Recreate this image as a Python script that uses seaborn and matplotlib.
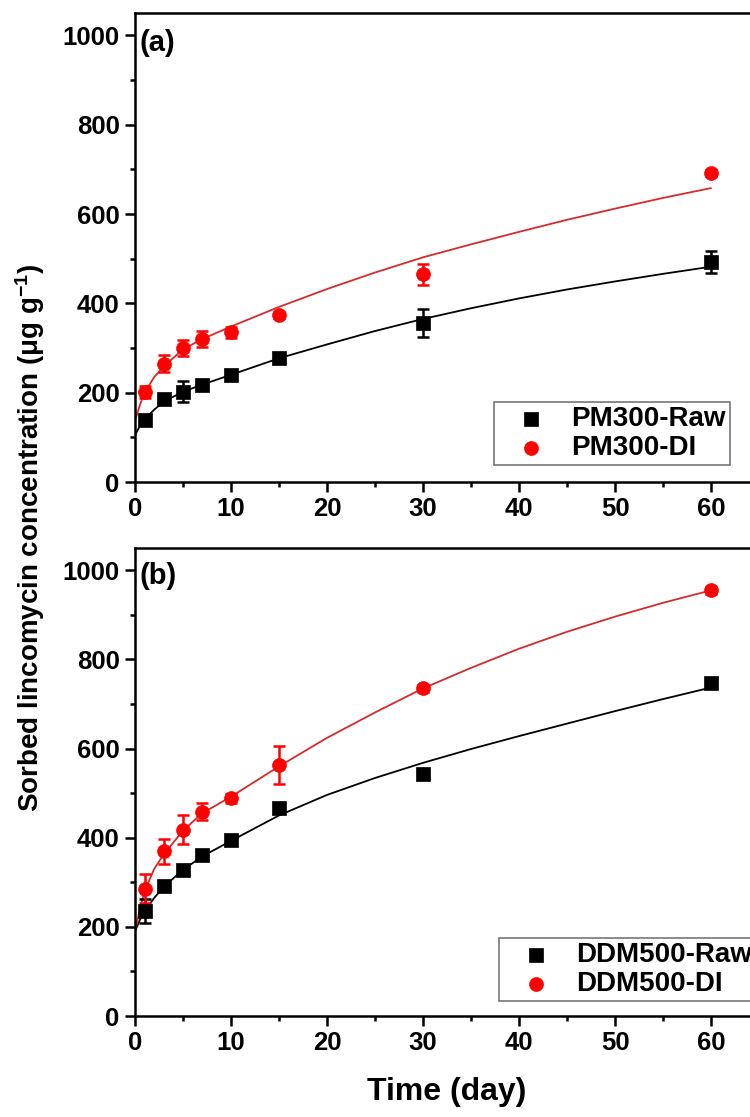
import matplotlib
matplotlib.use("Agg")
import matplotlib.pyplot as plt
import seaborn as sns
import numpy as np
from matplotlib.ticker import MultipleLocator

# ---------------- data ----------------
t_days = [1, 3, 5, 7, 10, 15, 30, 60]

a_raw = [139, 186, 202, 217, 239, 277, 356, 493]
a_raw_err = [12, 6, 24, 10, 8, 8, 32, 25]
a_di = [202, 265, 300, 321, 335, 374, 465, 692]
a_di_err = [13, 19, 17, 18, 13, 6, 23, 6]

b_raw = [235, 291, 327, 361, 395, 466, 543, 747]
b_raw_err = [27, 8, 8, 12, 8, 8, 8, 8]
b_di = [286, 370, 418, 458, 488, 563, 735, 955]
b_di_err = [32, 28, 32, 19, 10, 42, 8, 8]

# fitted curves
t_fit = [0, 0.5, 1, 2, 3, 5, 7, 10, 15, 20, 25, 30, 35, 40, 45, 50, 55, 60]
fit_a_raw = [105, 125, 140, 162, 180, 202, 218, 240, 277, 308, 338, 365, 389, 411, 431, 449, 466, 482]
fit_a_di = [137, 172, 200, 235, 259, 297, 320, 348, 392, 432, 469, 503, 532, 560, 587, 612, 636, 658]
fit_b_raw = [190, 215, 235, 265, 290, 328, 358, 393, 450, 496, 534, 568, 599, 628, 656, 684, 711, 737]
fit_b_di = [188, 240, 280, 330, 363, 416, 455, 492, 560, 624, 681, 735, 781, 824, 862, 896, 927, 955]

labels_a = ["PM300-Raw", "PM300-DI"]
labels_b = ["DDM500-Raw", "DDM500-DI"]
panel_tags = ["(a)", "(b)"]

# ---------------- style ----------------
sns.set_theme(style="ticks")
plt.rcParams["font.family"] = ["Liberation Sans", "DejaVu Sans"]
plt.rcParams["font.weight"] = "bold"
plt.rcParams["text.color"] = "black"
plt.rcParams["axes.labelcolor"] = "black"
plt.rcParams["xtick.color"] = "black"
plt.rcParams["ytick.color"] = "black"
plt.rcParams["axes.edgecolor"] = "black"
plt.rcParams["mathtext.fontset"] = "custom"
plt.rcParams["mathtext.rm"] = "Liberation Sans:bold"
plt.rcParams["mathtext.it"] = "Liberation Sans:bold"
plt.rcParams["mathtext.bf"] = "Liberation Sans:bold"
plt.rcParams["mathtext.default"] = "rm"

BLACK = "#000000"
RED = "#ff0000"
RED_LINE = "#d42b2b"

fig = plt.figure(figsize=(7.5, 11.17), dpi=100)
W, H = 750.0, 1117.0
ax1 = fig.add_axes([135 / W, 1 - 482 / H, 624 / W, 469 / H])
ax2 = fig.add_axes([135 / W, 1 - 1016 / H, 624 / W, 468 / H])


def draw_panel(ax, raw, raw_err, di, di_err, fraw, fdi, labels, tag, tag_y, leg_anchor):
    sns.lineplot(x=t_fit, y=fraw, ax=ax, color=BLACK, linewidth=1.3, legend=False, zorder=2)
    sns.lineplot(x=t_fit, y=fdi, ax=ax, color=RED_LINE, linewidth=1.3, legend=False, zorder=2)
    ax.errorbar(t_days, raw, yerr=raw_err, fmt="none", ecolor=BLACK, elinewidth=1.8,
                capsize=4.4, capthick=1.8, zorder=3)
    ax.errorbar(t_days, di, yerr=di_err, fmt="none", ecolor=RED, elinewidth=1.8,
                capsize=4.4, capthick=1.8, zorder=3)
    sns.scatterplot(x=t_days, y=raw, ax=ax, marker="s", s=88, color=BLACK,
                    edgecolor=BLACK, linewidth=0.5, label=labels[0], zorder=4)
    sns.scatterplot(x=t_days, y=di, ax=ax, marker="o", s=100, color=RED,
                    edgecolor=RED, linewidth=0.5, label=labels[1], zorder=4)

    ax.set_xlim(0, 65)
    ax.set_ylim(0, 1050)
    ax.xaxis.set_major_locator(MultipleLocator(10))
    ax.xaxis.set_minor_locator(MultipleLocator(5))
    ax.yaxis.set_major_locator(MultipleLocator(200))
    ax.yaxis.set_minor_locator(MultipleLocator(100))
    ax.tick_params(which="major", direction="out", length=7, width=1.8,
                   labelsize=18.5, pad=4, colors=BLACK, labelcolor=BLACK)
    ax.tick_params(which="minor", direction="out", length=3.8, width=1.8, colors=BLACK)
    for lab in ax.get_xticklabels() + ax.get_yticklabels():
        lab.set_fontweight("bold")
        lab.set_color(BLACK)
    for sp in ax.spines.values():
        sp.set_linewidth(1.8)
        sp.set_color(BLACK)
    ax.set_xlabel("")
    ax.set_ylabel("")
    ax.text(0.5, tag_y, tag, fontsize=21, fontweight="bold", ha="left", va="center",
            color=BLACK)

    leg = ax.legend(loc="lower left", bbox_to_anchor=leg_anchor, borderaxespad=0,
                    fontsize=20, frameon=True, fancybox=False, borderpad=0.15,
                    labelspacing=0.1, handlelength=2.37, handletextpad=0.25,
                    markerscale=1.0)
    frame = leg.get_frame()
    frame.set_edgecolor("#555555")
    frame.set_linewidth(1.2)
    for txt in leg.get_texts():
        txt.set_fontweight("bold")
        txt.set_color(BLACK)


draw_panel(ax1, a_raw, a_raw_err, a_di, a_di_err, fit_a_raw, fit_a_di,
           labels_a, panel_tags[0], 982, (0.5753, 0.0362))
draw_panel(ax2, b_raw, b_raw_err, b_di, b_di_err, fit_b_raw, fit_b_di,
           labels_b, panel_tags[1], 987, (0.583, 0.032))

fig.text(30 / W, 1 - 538 / H, r"Sorbed lincomycin concentration (μg g$^{-1}$)",
         rotation=90, ha="center", va="center", fontsize=20, fontweight="bold",
         color=BLACK)
fig.text(447 / W, 1 - 1092 / H, "Time (day)", ha="center", va="center",
         fontsize=23, fontweight="bold", color=BLACK)

fig.savefig("out.png", dpi=100)
